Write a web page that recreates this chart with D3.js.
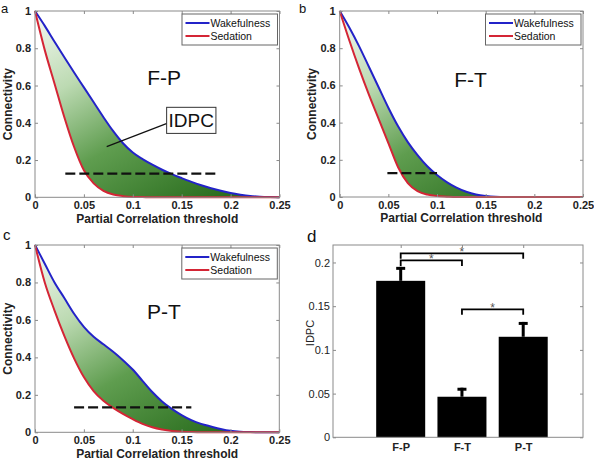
<!DOCTYPE html>
<html>
<head>
<meta charset="utf-8">
<script src="https://cdn.jsdelivr.net/npm/d3@7"></script>
<style>
  body { margin: 0; background: #fff; }
  text { font-family: "Liberation Sans", Arial, sans-serif; }
</style>
</head>
<body>
<div id="vis"></div>
<script>
// partial correlation thresholds (x of panels a-c)
const thresholds = [0, 0.01, 0.02, 0.03, 0.04, 0.05, 0.06, 0.07, 0.08, 0.09, 0.10, 0.11, 0.12,
  0.13, 0.14, 0.15, 0.16, 0.17, 0.18, 0.19, 0.20, 0.21, 0.22, 0.23, 0.24, 0.25];

// connectivity curves
const fpWake = [1, 0.92, 0.835, 0.752, 0.67, 0.59, 0.51, 0.43, 0.355, 0.29, 0.24, 0.205, 0.175,
  0.148, 0.124, 0.103, 0.083, 0.065, 0.049, 0.035, 0.023, 0.014, 0.007, 0.003, 0.001, 0];
const fpSed = [1, 0.79, 0.61, 0.43, 0.27, 0.145, 0.075, 0.035, 0.015, 0.006, 0.002, 0.001, 0,
  0, 0, 0, 0, 0, 0, 0, 0, 0, 0, 0, 0, 0];
const ftWake = [1, 0.91, 0.81, 0.70, 0.59, 0.48, 0.38, 0.295, 0.225, 0.165, 0.118, 0.08, 0.05,
  0.028, 0.013, 0.005, 0.001, 0, 0, 0, 0, 0, 0, 0, 0, 0];
const ftSed = [1, 0.84, 0.69, 0.55, 0.42, 0.29, 0.16, 0.075, 0.032, 0.013, 0.005, 0.002, 0,
  0, 0, 0, 0, 0, 0, 0, 0, 0, 0, 0, 0, 0];
const ptWake = [1, 0.9, 0.8, 0.717, 0.633, 0.563, 0.51, 0.47, 0.43, 0.385, 0.335, 0.275, 0.215,
  0.165, 0.125, 0.092, 0.065, 0.045, 0.031, 0.018, 0.008, 0.003, 0.001, 0, 0, 0];
const ptSed = [1, 0.8, 0.65, 0.515, 0.395, 0.295, 0.22, 0.168, 0.13, 0.098, 0.07, 0.045, 0.027,
  0.015, 0.007, 0.003, 0.001, 0, 0, 0, 0, 0, 0, 0, 0, 0];

// dashed reference lines: [from, to, level]
const cutFP = [0.031, 0.186, 0.127];
const cutFT = [0.049, 0.100, 0.128];
const cutPT = [0.040, 0.160, 0.133];

const xTicks = [0, 0.05, 0.1, 0.15, 0.2, 0.25];
const yTicks = [0, 0.2, 0.4, 0.6, 0.8, 1];

// panel d
const pairs = ["F-P", "F-T", "P-T"];
const idpcMean = [0.179, 0.0464, 0.115];
const idpcUpper = [0.195, 0.0567, 0.132];
const idpcTicks = [0, 0.05, 0.1, 0.15, 0.2];
const sigFrom = [0, 0, 1];
const sigTo = [2, 1, 2];
const sigLevel = [0.2105, 0.2024, 0.1464];

const W = 594, H = 460;
const BLUE = "#2323c8", RED = "#d42535", AXIS = "#8a8a8a", INK = "#222";

const svg = d3.select("#vis").append("svg").attr("width", W).attr("height", H);
svg.append("rect").attr("width", W).attr("height", H).attr("fill", "#fff");

const grad = svg.append("defs").append("linearGradient")
  .attr("id", "green").attr("x1", 0).attr("y1", 0).attr("x2", 0.75).attr("y2", 1);
[[0, "#f6faf4"], [0.32, "#bcdab2"], [0.62, "#5f9d4f"], [1, "#2b6e1f"]].forEach(([o, c]) =>
  grad.append("stop").attr("offset", o).attr("stop-color", c));

function letter(txt, x, y, size) {
  svg.append("text").attr("x", x).attr("y", y).attr("font-size", size).attr("fill", "#111").text(txt);
}

function curvePanel(p) {
  const [l, r, t, b] = p.box;
  const x = d3.scaleLinear().domain([0, 0.25]).range([l, r]);
  const y = d3.scaleLinear().domain([0, 1]).range([b, t]);
  const g = svg.append("g");
  const idx = d3.range(thresholds.length);

  g.append("path").datum(idx)
    .attr("fill", "url(#green)")
    .attr("d", d3.area().curve(d3.curveMonotoneX)
      .x(i => x(thresholds[i])).y0(i => y(p.sed[i])).y1(i => y(p.wake[i])));
  const line = vals => d3.line().curve(d3.curveMonotoneX).x(i => x(thresholds[i])).y(i => y(vals[i]));
  g.append("path").datum(idx).attr("fill", "none").attr("stroke", BLUE).attr("stroke-width", 2).attr("d", line(p.wake));
  g.append("path").datum(idx).attr("fill", "none").attr("stroke", RED).attr("stroke-width", 2).attr("d", line(p.sed));

  // dashed threshold line
  g.append("line")
    .attr("x1", x(p.cut[0])).attr("x2", x(p.cut[1]))
    .attr("y1", y(p.cut[2])).attr("y2", y(p.cut[2]))
    .attr("stroke", "#111").attr("stroke-width", 2.2).attr("stroke-dasharray", "10,4");

  // axes (ticks inward, box on)
  const fmt = d => String(d);
  const ax = (axis, tr) => {
    const a = g.append("g").attr("transform", tr).call(axis);
    a.select(".domain").remove();
    a.selectAll(".tick line").attr("stroke", AXIS);
    a.selectAll("text").attr("font-size", 11).attr("font-weight", "bold").attr("fill", INK);
    return a;
  };
  ax(d3.axisBottom(x).tickValues(xTicks).tickFormat(fmt).tickSize(-3).tickPadding(4), `translate(0,${b})`);
  ax(d3.axisLeft(y).tickValues(yTicks).tickFormat(fmt).tickSize(-3).tickPadding(4), `translate(${l},0)`);
  ax(d3.axisTop(x).tickValues(xTicks).tickFormat("").tickSize(-3), `translate(0,${t})`);
  ax(d3.axisRight(y).tickValues(yTicks).tickFormat("").tickSize(-3), `translate(${r},0)`);
  g.append("rect").attr("x", l).attr("y", t).attr("width", r - l).attr("height", b - t)
    .attr("fill", "none").attr("stroke", AXIS).attr("stroke-width", 1);

  g.append("text").attr("x", (l + r) / 2).attr("y", b + 25.2).attr("text-anchor", "middle")
    .attr("font-size", 12).attr("font-weight", "bold").attr("fill", INK).text("Partial Correlation threshold");
  g.append("text").attr("transform", `translate(${p.ylabX},${(t + b) / 2}) rotate(-90)`)
    .attr("text-anchor", "middle").attr("dominant-baseline", "central")
    .attr("font-size", 12).attr("font-weight", "bold").attr("fill", INK).text("Connectivity");

  // pair name
  g.append("text").attr("x", x(p.titleAt[0])).attr("y", y(p.titleAt[1])).attr("text-anchor", "middle")
    .attr("font-size", 21).attr("fill", "#111").text(p.title);

  // legend
  const lg = g.append("g").attr("transform", `translate(${r - 97.5},${t + 3})`);
  lg.append("rect").attr("width", 95.5).attr("height", 31).attr("fill", "#fff")
    .attr("stroke", "#666").attr("stroke-width", 1);
  [["Wakefulness", BLUE, 9], ["Sedation", RED, 22]].forEach(([name, c, yy]) => {
    lg.append("line").attr("x1", 3.5).attr("x2", 27.5).attr("y1", yy).attr("y2", yy)
      .attr("stroke", c).attr("stroke-width", 2);
    lg.append("text").attr("x", 28.5).attr("y", yy).attr("dominant-baseline", "central")
      .attr("font-size", 10.5).attr("fill", "#111").text(name);
  });
  return { g, x, y };
}

const pa = curvePanel({ box: [35, 279.5, 11, 197.3], wake: fpWake, sed: fpSed, cut: cutFP,
  title: "F-P", titleAt: [0.132, 0.603], ylabX: 8.3 });
curvePanel({ box: [339.7, 583, 11, 197], wake: ftWake, sed: ftSed, cut: cutFT,
  title: "F-T", titleAt: [0.1345, 0.594], ylabX: 311.5 });
curvePanel({ box: [35, 279.3, 245, 432.3], wake: ptWake, sed: ptSed, cut: cutPT,
  title: "P-T", titleAt: [0.132, 0.605], ylabX: 8.3 });

// IDPC callout in panel a
{
  const { g, x, y } = pa;
  g.append("line").attr("x1", x(0.135)).attr("y1", y(0.397)).attr("x2", x(0.0733)).attr("y2", y(0.272))
    .attr("stroke", "#111").attr("stroke-width", 1.2);
  g.append("rect").attr("x", x(0.1346)).attr("y", y(0.483)).attr("width", x(0.185) - x(0.1346))
    .attr("height", y(0.343) - y(0.483)).attr("fill", "#fff").attr("stroke", "#333").attr("stroke-width", 1);
  g.append("text").attr("x", (x(0.1346) + x(0.185)) / 2).attr("y", y(0.413)).attr("text-anchor", "middle")
    .attr("dominant-baseline", "central").attr("font-size", 19).attr("fill", "#111").text("IDPC");
}

// panel d: IDPC bars
{
  const l = 333, r = 583, t = 245, b = 437.3;
  const x = d3.scaleLinear().domain([-0.105, 3.976]).range([l, r]);
  const y = d3.scaleLinear().domain([0, 0.22]).range([b, t]);
  const g = svg.append("g");
  const bw = x(0.8) - x(0);

  g.selectAll(".bar").data(pairs).join("rect")
    .attr("x", (d, i) => x(i + 1) - bw / 2).attr("width", bw)
    .attr("y", (d, i) => y(idpcMean[i])).attr("height", (d, i) => b - y(idpcMean[i]))
    .attr("fill", "#000");
  g.selectAll(".err").data(pairs).join("line")
    .attr("x1", (d, i) => x(i + 1)).attr("x2", (d, i) => x(i + 1))
    .attr("y1", (d, i) => y(idpcMean[i])).attr("y2", (d, i) => y(idpcUpper[i]))
    .attr("stroke", "#000").attr("stroke-width", 3);
  g.selectAll(".cap").data(pairs).join("line")
    .attr("x1", (d, i) => x(i + 1) - 4.5).attr("x2", (d, i) => x(i + 1) + 4.5)
    .attr("y1", (d, i) => y(idpcUpper[i]) + 1.5).attr("y2", (d, i) => y(idpcUpper[i]) + 1.5)
    .attr("stroke", "#000").attr("stroke-width", 3);

  // significance brackets
  sigLevel.forEach((lv, k) => {
    const x0 = x(sigFrom[k] + 1), x1 = x(sigTo[k] + 1), yy = y(lv);
    g.append("path").attr("d", `M${x0},${yy + 5.5}V${yy}H${x1}V${yy + 5.5}`)
      .attr("fill", "none").attr("stroke", "#000").attr("stroke-width", 1.8);
    g.append("text").attr("x", (x0 + x1) / 2).attr("y", yy + 3).attr("text-anchor", "middle")
      .attr("font-size", 12).attr("fill", "#555").text("*");
  });

  const ax = (axis, tr, bold) => {
    const a = g.append("g").attr("transform", tr).call(axis);
    a.select(".domain").remove();
    a.selectAll(".tick line").attr("stroke", AXIS);
    a.selectAll("text").attr("font-size", 11).attr("fill", INK).attr("font-weight", bold ? "bold" : "normal");
  };
  ax(d3.axisLeft(y).tickValues(idpcTicks).tickFormat(d => String(d)).tickSize(-3).tickPadding(3), `translate(${l},0)`);
  ax(d3.axisRight(y).tickValues(idpcTicks).tickFormat("").tickSize(-3), `translate(${r},0)`);
  ax(d3.axisTop(x).tickValues([1, 2, 3]).tickFormat("").tickSize(-3), `translate(0,${t})`);
  ax(d3.axisBottom(x).tickValues([1, 2, 3]).tickFormat((d, i) => pairs[i]).tickSize(0).tickPadding(6), `translate(0,${b})`, true);
  g.append("rect").attr("x", l).attr("y", t).attr("width", r - l).attr("height", b - t)
    .attr("fill", "none").attr("stroke", AXIS).attr("stroke-width", 1);
  g.append("text").attr("transform", `translate(310,333) rotate(-90)`).attr("text-anchor", "middle")
    .attr("dominant-baseline", "central").attr("font-size", 11).attr("fill", INK).text("IDPC");
}

letter("a", 1, 12.5, 13);
letter("b", 299, 12.5, 13);
letter("c", 3, 240, 15);
letter("d", 307, 242, 17);
</script>
</body>
</html>
